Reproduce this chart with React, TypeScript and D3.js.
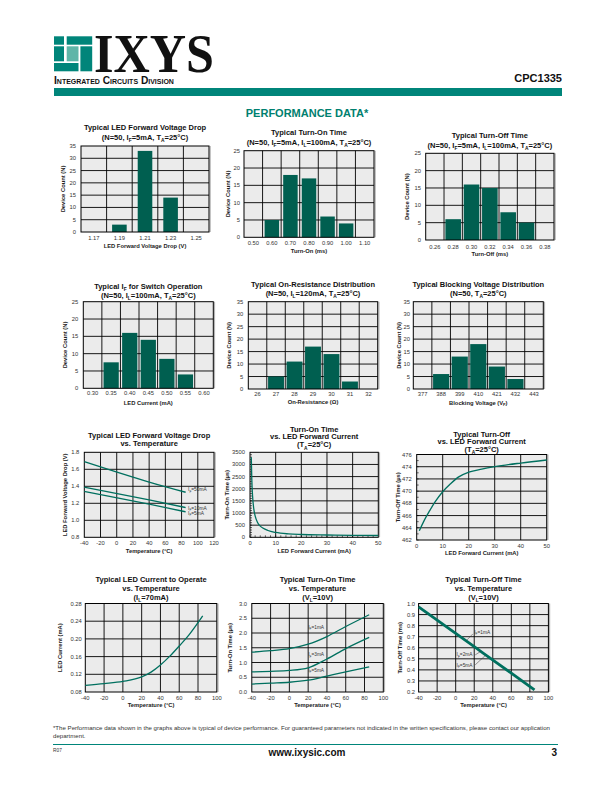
import React from 'react';
import * as d3 from 'd3';

// ---------- DATA ----------
const fwdVoltCats = ['1.17', '1.19', '1.21', '1.23', '1.25'];
const fwdVoltCounts = [0, 3, 33, 14, 0];
const countTicks35 = [0, 5, 10, 15, 20, 25, 30, 35];
const countTicks25 = [0, 5, 10, 15, 20, 25];

const turnOnCats = ['0.50', '0.60', '0.70', '0.80', '0.90', '1.00', '1.10'];
const turnOnCounts = [0, 5, 18, 17, 6, 4, 0];

const turnOffCats = ['0.26', '0.28', '0.30', '0.32', '0.34', '0.36', '0.38'];
const turnOffCounts = [0, 6, 16, 15, 8, 5, 0];

const ifCats = ['0.30', '0.35', '0.40', '0.45', '0.50', '0.55', '0.60'];
const ifCounts = [0, 7.5, 16, 14, 8.5, 4, 0];

const ronCats = ['26', '27', '28', '29', '30', '31', '32'];
const ronCounts = [0, 5, 11, 17, 14, 3, 0];

const bvCats = ['377', '388', '399', '410', '421', '432', '443'];
const bvCounts = [0, 6, 13, 18, 9, 4, 0];

const tempTicks120 = [-40, -20, 0, 20, 40, 60, 80, 100, 120];
const tempTicks100 = [-40, -20, 0, 20, 40, 60, 80, 100];
const currentTicks = [0, 10, 20, 30, 40, 50];

const vfYTicks = [0.8, 1.0, 1.2, 1.4, 1.6, 1.8];
const vfTemp = [-40, 40, 85];
const vf50 = [1.69, 1.45, 1.33];
const vf10 = [1.39, 1.24, 1.15];
const vf5 = [1.34, 1.19, 1.1];

const tonIfYTicks = [0, 500, 1000, 1500, 2000, 2500, 3000, 3500];
const tonIfX = [0.5, 0.7, 1, 1.5, 2, 3, 4, 5, 7, 10, 15, 20, 30, 40, 50];
const tonIfY = [3300, 2400, 1700, 1150, 880, 600, 460, 380, 280, 200, 140, 115, 95, 82, 75];

const toffIfYTicks = [462, 464, 466, 468, 470, 472, 474, 476];
const toffIfX = [1, 3, 5, 7, 10, 13, 16, 20, 25, 30, 40, 50];
const toffIfY = [463.5, 465.3, 466.8, 468.2, 469.9, 471.2, 472.3, 473.1, 473.6, 474.0, 474.6, 475.1];

const iopYTicks = [0.08, 0.12, 0.16, 0.2, 0.24, 0.28];
const iopTemp = [-40, -20, 0, 20, 30, 40, 50, 60, 70, 85];
const iopMa = [0.095, 0.099, 0.104, 0.114, 0.125, 0.141, 0.161, 0.184, 0.208, 0.252];

const tonTYTicks = [0, 0.5, 1.0, 1.5, 2.0, 2.5, 3.0];
const tonTemp = [-40, -20, 0, 20, 40, 60, 85];
const ton1 = [1.35, 1.4, 1.47, 1.62, 1.88, 2.22, 2.62];
const ton3 = [0.68, 0.7, 0.73, 0.82, 1.12, 1.47, 1.85];
const ton5 = [0.27, 0.3, 0.33, 0.4, 0.54, 0.68, 0.85];

const toffTYTicks = [0.2, 0.3, 0.4, 0.5, 0.6, 0.7, 0.8, 0.9, 1.0];
const toffTemp = [-40, 20, 85];
const toffMs = [0.97, 0.61, 0.22];

// ---------- STYLE ----------
const FONT = "'Liberation Sans', Arial, Helvetica, sans-serif";
const BAR = '#005f50';
const LINE = '#00705f';
const TEAL = '#00857a';
const PLOT_BG = '#ebebeb';
const TITLE_SIZE = 7.5;
const TICK_SIZE = 5.8;
const AXIS_SIZE = 5.8;

type Box = { x0: number; x1: number; y0: number; y1: number };

function Rich(props: any) {
  const { x, y, text, size, weight, anchor, fill, rotate } = props;
  const parts: { t: string; sub: boolean }[] = [];
  const re = /_\{([^}]*)\}/g;
  let last = 0;
  let m: RegExpExecArray | null;
  while ((m = re.exec(text))) {
    if (m.index > last) parts.push({ t: text.slice(last, m.index), sub: false });
    parts.push({ t: m[1], sub: true });
    last = re.lastIndex;
  }
  if (last < text.length) parts.push({ t: text.slice(last), sub: false });
  const sh = size * 0.3;
  let prevSub = false;
  return (
    <text
      x={x}
      y={y}
      fontSize={size}
      fontWeight={weight || 'normal'}
      textAnchor={anchor || 'start'}
      fill={fill || '#111'}
      fontFamily={FONT}
      transform={rotate ? `rotate(-90 ${x} ${y})` : undefined}
    >
      {parts.map((p, i) => {
        const dy = p.sub && !prevSub ? sh : !p.sub && prevSub ? -sh : 0;
        prevSub = p.sub;
        return (
          <tspan key={i} dy={dy || undefined} fontSize={p.sub ? size * 0.65 : undefined}>
            {p.t}
          </tspan>
        );
      })}
    </text>
  );
}

function Titles({ cfg }: any) {
  const cx = (cfg.box.x0 + cfg.box.x1) / 2;
  return (
    <g>
      {cfg.titles.map((t: any, i: number) => (
        <Rich key={i} x={cx} y={t.y} text={t.t} size={TITLE_SIZE} weight="bold" anchor="middle" fill="#111" />
      ))}
      <Rich x={cx} y={cfg.xTitleY} text={cfg.xTitle} size={AXIS_SIZE} weight="bold" anchor="middle" fill="#222" />
      <Rich
        x={cfg.yTitleX}
        y={(cfg.box.y0 + cfg.box.y1) / 2}
        text={cfg.yTitle}
        size={AXIS_SIZE}
        weight="bold"
        anchor="middle"
        fill="#222"
        rotate
      />
    </g>
  );
}

function Border({ box }: { box: Box }) {
  return (
    <g>
      <line x1={box.x1 + 1.2} x2={box.x1 + 1.2} y1={box.y0} y2={box.y1} stroke="#b5b5b5" strokeWidth={1.2} />
      <rect x={box.x0} y={box.y0} width={box.x1 - box.x0} height={box.y1 - box.y0} fill="none" stroke="#000" strokeWidth={1} />
    </g>
  );
}

function Histogram({ cfg, cats, counts, yTicks }: any) {
  const box: Box = cfg.box;
  const x = d3.scaleBand<string>().domain(cats).range([box.x0, box.x1]);
  const y = d3.scaleLinear().domain([yTicks[0], yTicks[yTicks.length - 1]]).range([box.y1, box.y0]);
  const bw = x.bandwidth();
  return (
    <g>
      <rect x={box.x0} y={box.y0} width={box.x1 - box.x0} height={box.y1 - box.y0} fill={PLOT_BG} />
      {yTicks.slice(1, -1).map((t: number) => (
        <line key={'h' + t} x1={box.x0} x2={box.x1} y1={y(t)} y2={y(t)} stroke="#000" strokeWidth={0.9} />
      ))}
      {cats.slice(1).map((c: string) => (
        <line key={'v' + c} x1={x(c)} x2={x(c)} y1={box.y0} y2={box.y1} stroke="#000" strokeWidth={0.9} />
      ))}
      {cats.map((c: string, i: number) =>
        counts[i] > 0 ? (
          <rect
            key={'b' + c}
            x={(x(c) as number) + (bw * (1 - cfg.barFrac)) / 2}
            y={y(counts[i])}
            width={bw * cfg.barFrac}
            height={y(0) - y(counts[i])}
            fill={BAR}
          />
        ) : null
      )}
      <Border box={box} />
      {yTicks.map((t: number) => (
        <text key={'yl' + t} x={cfg.yLabelX} y={y(t) + 2} fontSize={TICK_SIZE} textAnchor="end" fill="#333" fontFamily={FONT}>
          {t}
        </text>
      ))}
      {cats.map((c: string) => (
        <text
          key={'xl' + c}
          x={(x(c) as number) + bw / 2}
          y={cfg.tickY}
          fontSize={TICK_SIZE}
          textAnchor="middle"
          fill="#333"
          fontFamily={FONT}
        >
          {c}
        </text>
      ))}
      <Titles cfg={cfg} />
    </g>
  );
}

function LineChart({ cfg, xTicks, yTicks, series, yFmt, labels, leaders }: any) {
  const box: Box = cfg.box;
  const x = d3.scaleLinear().domain([xTicks[0], xTicks[xTicks.length - 1]]).range([box.x0, box.x1]);
  const y = d3.scaleLinear().domain([yTicks[0], yTicks[yTicks.length - 1]]).range([box.y1, box.y0]);
  const line = d3
    .line<[number, number]>()
    .x((d) => x(d[0]))
    .y((d) => y(d[1]))
    .curve(d3.curveMonotoneX);
  const minorX: number[] = cfg.minorX ? d3.range(xTicks[0], xTicks[xTicks.length - 1], cfg.minorX) : [];
  const minorY: number[] = cfg.minorY ? d3.range(yTicks[0], yTicks[yTicks.length - 1], cfg.minorY) : [];
  return (
    <g>
      <rect x={box.x0} y={box.y0} width={box.x1 - box.x0} height={box.y1 - box.y0} fill={PLOT_BG} />
      {yTicks.slice(1, -1).map((t: number) => (
        <line key={'h' + t} x1={box.x0} x2={box.x1} y1={y(t)} y2={y(t)} stroke="#000" strokeWidth={0.9} />
      ))}
      {xTicks.slice(1, -1).map((t: number) => (
        <line key={'v' + t} x1={x(t)} x2={x(t)} y1={box.y0} y2={box.y1} stroke="#000" strokeWidth={0.9} />
      ))}
      {minorX.map((t) => (
        <line key={'mx' + t} x1={x(t)} x2={x(t)} y1={box.y1} y2={box.y1 - 2} stroke="#000" strokeWidth={0.6} />
      ))}
      {minorY.map((t) => (
        <line key={'my' + t} x1={box.x0} x2={box.x0 + 2} y1={y(t)} y2={y(t)} stroke="#000" strokeWidth={0.6} />
      ))}
      <Border box={box} />
      {series.map((s: any, i: number) => (
        <path
          key={'s' + i}
          d={line(s.xs.map((v: number, j: number) => [v, s.ys[j]]) as [number, number][]) || ''}
          fill="none"
          stroke={LINE}
          strokeWidth={s.width}
        />
      ))}
      {(leaders || []).map((l: any, i: number) => (
        <line key={'ld' + i} x1={x(l.x1)} y1={y(l.y1)} x2={x(l.x2)} y2={y(l.y2)} stroke="#333" strokeWidth={0.5} />
      ))}
      {(labels || []).map((l: any, i: number) => (
        <Rich key={'lb' + i} x={x(l.x)} y={y(l.y) + 1.6} text={l.t} size={4.8} fill="#333" />
      ))}
      {yTicks.map((t: number) => (
        <text key={'yl' + t} x={cfg.yLabelX} y={y(t) + 2} fontSize={TICK_SIZE} textAnchor="end" fill="#333" fontFamily={FONT}>
          {yFmt(t)}
        </text>
      ))}
      {xTicks.map((t: number) => (
        <text key={'xl' + t} x={x(t)} y={cfg.tickY} fontSize={TICK_SIZE} textAnchor="middle" fill="#333" fontFamily={FONT}>
          {t}
        </text>
      ))}
      <Titles cfg={cfg} />
    </g>
  );
}

// ---------- LAYOUT ----------
const c1 = {
  box: { x0: 81, x1: 209, y0: 146, y1: 232 },
  titles: [
    { t: 'Typical LED Forward Voltage Drop', y: 130 },
    { t: '(N=50, I_{F}=5mA, T_{A}=25°C)', y: 140 },
  ],
  tickY: 239.5, xTitle: 'LED Forward Voltage Drop (V)', xTitleY: 248.3,
  yLabelX: 76, yTitle: 'Device Count (N)', yTitleX: 64.7, barFrac: 0.57,
};
const c2 = {
  box: { x0: 244, x1: 374, y0: 150.7, y1: 237.3 },
  titles: [
    { t: 'Typical Turn-On Time', y: 135 },
    { t: '(N=50, I_{F}=5mA, I_{L}=100mA, T_{A}=25°C)', y: 145 },
  ],
  tickY: 245.3, xTitle: 'Turn-On (ms)', xTitleY: 252.5,
  yLabelX: 240, yTitle: 'Device Count (N)', yTitleX: 229.7, barFrac: 0.78,
};
const c3 = {
  box: { x0: 425.7, x1: 554, y0: 153.3, y1: 240 },
  titles: [
    { t: 'Typical Turn-Off Time', y: 137.5 },
    { t: '(N=50, I_{F}=5mA, I_{L}=100mA, T_{A}=25°C)', y: 147.5 },
  ],
  tickY: 248.7, xTitle: 'Turn-Off (ms)', xTitleY: 256,
  yLabelX: 421, yTitle: 'Device Count (N)', yTitleX: 408.7, barFrac: 0.85,
};
const c4 = {
  box: { x0: 83.3, x1: 213.3, y0: 301.7, y1: 388.3 },
  titles: [
    { t: 'Typical I_{F} for Switch Operation', y: 288.5 },
    { t: '(N=50, I_{L}=100mA, T_{A}=25°C)', y: 297.5 },
  ],
  tickY: 395.3, xTitle: 'LED Current (mA)', xTitleY: 404.5,
  yLabelX: 78.3, yTitle: 'Device Count (N)', yTitleX: 67, barFrac: 0.82,
};
const c5 = {
  box: { x0: 248.3, x1: 377.7, y0: 301.7, y1: 389 },
  titles: [
    { t: 'Typical On-Resistance Distribution', y: 287 },
    { t: '(N=50, I_{L}=120mA, T_{A}=25°C)', y: 296 },
  ],
  tickY: 395.5, xTitle: 'On-Resistance (Ω)', xTitleY: 403.5,
  yLabelX: 243.3, yTitle: 'Device Count (N)', yTitleX: 231, barFrac: 0.86,
};
const c6 = {
  box: { x0: 413.3, x1: 543.3, y0: 301.7, y1: 389 },
  titles: [
    { t: 'Typical Blocking Voltage Distribution', y: 287 },
    { t: '(N=50, T_{A}=25°C)', y: 296 },
  ],
  tickY: 396.3, xTitle: 'Blocking Voltage (V_{P})', xTitleY: 404.5,
  yLabelX: 410, yTitle: 'Device Count (N)', yTitleX: 401, barFrac: 0.87,
};
const c7 = {
  box: { x0: 84.3, x1: 214, y0: 452.3, y1: 537.3 },
  titles: [
    { t: 'Typical LED Forward Voltage Drop', y: 437.5 },
    { t: 'vs. Temperature', y: 446 },
  ],
  tickY: 545, xTitle: 'Temperature (°C)', xTitleY: 553,
  yLabelX: 79.3, yTitle: 'LED Forward Voltage Drop (V)', yTitleX: 67,
};
const c8 = {
  box: { x0: 250, x1: 378.3, y0: 452.3, y1: 537.3 },
  titles: [
    { t: 'Turn-On Time', y: 431.5 },
    { t: 'vs. LED Forward Current', y: 439.3 },
    { t: '(T_{A}=25°C)', y: 447.3 },
  ],
  tickY: 545.3, xTitle: 'LED Forward Current (mA)', xTitleY: 552.8,
  yLabelX: 245, yTitle: 'Turn-On Time (µs)', yTitleX: 228.7, minorX: 2, minorY: 100,
};
const c9 = {
  box: { x0: 416.7, x1: 546.7, y0: 454.5, y1: 540 },
  titles: [
    { t: 'Typical Turn-Off', y: 436.5 },
    { t: 'vs. LED Forward Current', y: 444.2 },
    { t: '(T_{A}=25°C)', y: 451.8 },
  ],
  tickY: 547.5, xTitle: 'LED Forward Current (mA)', xTitleY: 555,
  yLabelX: 411.7, yTitle: 'Turn-Off Time (µs)', yTitleX: 399.7, minorY: 1,
};
const row4Titles = (a: string, b: string, c: string) => [
  { t: a, y: 581.5 },
  { t: b, y: 590.5 },
  { t: c, y: 599.5 },
];
const c10 = {
  box: { x0: 85.3, x1: 216.8, y0: 603.5, y1: 692 },
  titles: row4Titles('Typical LED Current to Operate', 'vs. Temperature', '(I_{L}=70mA)'),
  tickY: 699.5, xTitle: 'Temperature (°C)', xTitleY: 707,
  yLabelX: 81.8, yTitle: 'LED Current (mA)', yTitleX: 62,
};
const c11 = {
  box: { x0: 251.8, x1: 383.3, y0: 603.5, y1: 692 },
  titles: row4Titles('Typical Turn-On Time', 'vs. Temperature', '(V_{L}=10V)'),
  tickY: 699.5, xTitle: 'Temperature (°C)', xTitleY: 707,
  yLabelX: 247, yTitle: 'Turn-On Time (µs)', yTitleX: 232,
};
const c12 = {
  box: { x0: 418.6, x1: 548.4, y0: 603.5, y1: 692 },
  titles: row4Titles('Typical Turn-Off Time', 'vs. Temperature', '(V_{L}=10V)'),
  tickY: 699.5, xTitle: 'Temperature (°C)', xTitleY: 707,
  yLabelX: 415, yTitle: 'Turn-Off Time (ms)', yTitleX: 401.6,
};

function Header() {
  return (
    <g>
      <rect x={54} y={36.3} width={10} height={8.4} fill={TEAL} />
      <rect x={66.7} y={36.3} width={25.5} height={8.4} fill={TEAL} />
      <rect x={54} y={46.3} width={10} height={15} fill={TEAL} />
      <rect x={66.7} y={46.3} width={11.8} height={15} fill="#5fb5a8" />
      <rect x={80.4} y={46.3} width={11.8} height={25} fill={TEAL} />
      <rect x={54} y={63} width={24.5} height={8.3} fill={TEAL} />
      <text
        x={94}
        y={72}
        fontSize={54}
        fontWeight="bold"
        fontFamily="'Liberation Serif', 'Times New Roman', serif"
        fill="#111"
        textLength={120}
        lengthAdjust="spacingAndGlyphs"
      >
        IXYS
      </text>
      <text
        x={54}
        y={84}
        fontFamily={FONT}
        fontWeight="bold"
        fill="#111"
        fontSize={10.2}
        style={{ fontVariant: 'small-caps' }}
      >
        Integrated Circuits Division
      </text>
      <text x={562} y={81.5} fontSize={11} fontWeight="bold" textAnchor="end" fontFamily={FONT} fill="#111">
        CPC1335
      </text>
      <rect x={54} y={88} width={508} height={8} fill={TEAL} />
      <text x={307} y={117} fontSize={11} fontWeight="bold" textAnchor="middle" fontFamily={FONT} fill="#00806f">
        PERFORMANCE DATA*
      </text>
    </g>
  );
}

function Footer() {
  return (
    <g fontFamily={FONT}>
      <text x={53} y={729.5} fontSize={6.1} fill="#333">
        *The Performance data shown in the graphs above is typical of device performance.  For guaranteed parameters not indicated in the written specifications, please contact our application
      </text>
      <text x={53} y={737.5} fontSize={6.1} fill="#333">
        department.
      </text>
      <line x1={53} x2={558} y1={744.5} y2={744.5} stroke={TEAL} strokeWidth={1} />
      <text x={53} y={751.5} fontSize={4.8} fill="#333">
        R07
      </text>
      <text x={307} y={756} fontSize={10} fontWeight="bold" textAnchor="middle" fill="#111">
        www.ixysic.com
      </text>
      <text x={557} y={756} fontSize={10} fontWeight="bold" textAnchor="end" fill="#111">
        3
      </text>
    </g>
  );
}

const fmt1 = (v: number) => v.toFixed(1);
const fmt2 = (v: number) => v.toFixed(2);
const fmt0 = (v: number) => String(v);

export default function App() {
  return (
    <svg
      width={612}
      height={792}
      viewBox="0 0 612 792"
      style={{ position: 'absolute', left: 0, top: 0, background: '#fff' }}
    >
      <rect width={612} height={792} fill="#fff" />
      <Header />
      <Histogram cfg={c1} cats={fwdVoltCats} counts={fwdVoltCounts} yTicks={countTicks35} />
      <Histogram cfg={c2} cats={turnOnCats} counts={turnOnCounts} yTicks={countTicks25} />
      <Histogram cfg={c3} cats={turnOffCats} counts={turnOffCounts} yTicks={countTicks25} />
      <Histogram cfg={c4} cats={ifCats} counts={ifCounts} yTicks={countTicks25} />
      <Histogram cfg={c5} cats={ronCats} counts={ronCounts} yTicks={countTicks35} />
      <Histogram cfg={c6} cats={bvCats} counts={bvCounts} yTicks={countTicks35} />
      <LineChart
        cfg={c7}
        xTicks={tempTicks120}
        yTicks={vfYTicks}
        yFmt={fmt1}
        series={[
          { xs: vfTemp, ys: vf50, width: 1.3 },
          { xs: vfTemp, ys: vf10, width: 1.3 },
          { xs: vfTemp, ys: vf5, width: 1.3 },
        ]}
        labels={[
          { x: 88, y: 1.36, t: 'I_{F}=50mA' },
          { x: 88, y: 1.14, t: 'I_{F}=10mA' },
          { x: 88, y: 1.085, t: 'I_{F}=5mA' },
        ]}
      />
      <LineChart
        cfg={c8}
        xTicks={currentTicks}
        yTicks={tonIfYTicks}
        yFmt={fmt0}
        series={[{ xs: tonIfX, ys: tonIfY, width: 1.3 }]}
      />
      <LineChart
        cfg={c9}
        xTicks={currentTicks}
        yTicks={toffIfYTicks}
        yFmt={fmt0}
        series={[{ xs: toffIfX, ys: toffIfY, width: 1.3 }]}
      />
      <LineChart
        cfg={c10}
        xTicks={tempTicks100}
        yTicks={iopYTicks}
        yFmt={fmt2}
        series={[{ xs: iopTemp, ys: iopMa, width: 1.3 }]}
      />
      <LineChart
        cfg={c11}
        xTicks={tempTicks100}
        yTicks={tonTYTicks}
        yFmt={fmt1}
        series={[
          { xs: tonTemp, ys: ton1, width: 1.3 },
          { xs: tonTemp, ys: ton3, width: 1.3 },
          { xs: tonTemp, ys: ton5, width: 1.3 },
        ]}
        labels={[
          { x: 20, y: 2.2, t: 'I_{F}=1mA' },
          { x: 20, y: 1.26, t: 'I_{F}=3mA' },
          { x: 20, y: 0.74, t: 'I_{F}=5mA' },
        ]}
      />
      <LineChart
        cfg={c12}
        xTicks={tempTicks100}
        yTicks={toffTYTicks}
        yFmt={fmt1}
        series={[{ xs: toffTemp, ys: toffMs, width: 2.8 }]}
        labels={[
          { x: 20, y: 0.74, t: 'I_{F}=1mA' },
          { x: 1, y: 0.536, t: 'I_{F}=2mA' },
          { x: 1, y: 0.444, t: 'I_{F}=5mA' },
        ]}
        leaders={[
          { x1: 18.5, y1: 0.725, x2: 11.5, y2: 0.665 },
          { x1: 21, y1: 0.535, x2: 27, y2: 0.567 },
          { x1: 21, y1: 0.445, x2: 32, y2: 0.53 },
        ]}
      />
      <Footer />
    </svg>
  );
}
